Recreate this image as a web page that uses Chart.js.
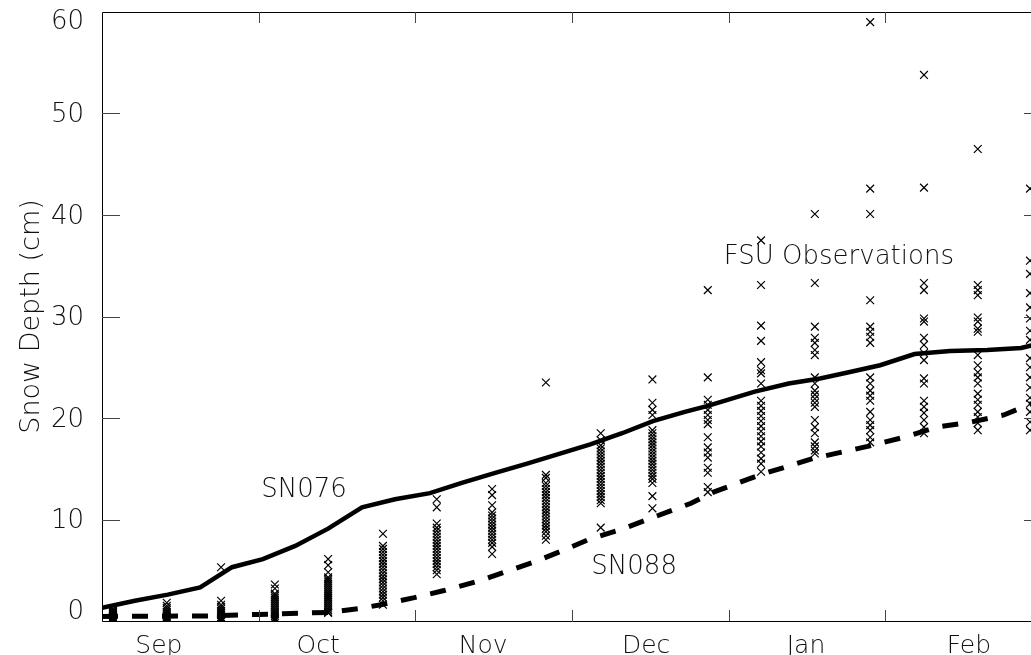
<!DOCTYPE html>
<html><head><meta charset="utf-8">
<script src="https://cdn.jsdelivr.net/npm/chart.js@4.4.1/dist/chart.umd.min.js"></script>
<style>
html,body{margin:0;padding:0;overflow:hidden;background:#fff;width:1031px;height:655px}
#wrap{position:absolute;left:0;top:0;width:1050px;height:655px}
</style>
</head><body><div id="wrap"><canvas id="c" width="1050" height="655"></canvas></div>
<script>
// ---- data (x in days from start of axis) ----
const monthLabels = ['Sep','Oct','Nov','Dec','Jan','Feb'];
const monthLabelDays = [10.9, 41.4, 73.0, 104.2, 134.8, 166.0];
const tickDays = [30, 60, 90, 120, 150];
const yTickValues = [0, 10, 20, 30, 40, 50, 60];

const sn076Days  = [0, 6.3, 12.6, 18.8, 24.9, 30.8, 37.0, 43.3, 49.8, 56.1, 62.8, 68.9, 75.3, 81.4, 87.7, 93.5, 99.6, 105.5, 111.6, 116.0, 125.0, 131.5, 137.5, 143.0, 149.0, 155.6, 162.4, 169.5, 176.0, 180.0];
const sn076Depth = [1.3, 2.0, 2.6, 3.3, 5.3, 6.1, 7.4, 9.1, 11.2, 12.0, 12.6, 13.6, 14.6, 15.5, 16.5, 17.4, 18.5, 19.7, 20.6, 21.2, 22.6, 23.4, 23.9, 24.5, 25.2, 26.3, 26.6, 26.7, 26.9, 27.4];

const sn088Days  = [0, 20.0, 30.0, 43.3, 49.0, 53.4, 59.8, 65.5, 72.6, 77.0, 82.7, 88.5, 93.5, 99.3, 105.0, 110.7, 112.8, 117.1, 126.0, 136.1, 146.6, 153.6, 159.9, 166.4, 172.7, 179.8];
const sn088Depth = [0.45, 0.5, 0.65, 0.85, 1.2, 1.6, 2.3, 3.0, 4.0, 4.8, 5.8, 7.0, 8.1, 9.0, 10.1, 11.2, 11.6, 12.7, 14.4, 16.0, 17.2, 18.1, 19.1, 19.6, 20.3, 21.8];

const obsDays = [2.1, 12.4, 22.8, 33.1, 43.3, 53.8, 64.1, 74.7, 85.0, 95.5, 105.4, 116.0, 126.2, 136.5, 147.1, 157.4, 167.7, 177.7];
const obsDepths = [
  [0, 0, 0, 0, 0, 0.1, 0.2, 0.3, 0.4, 0.5, 0.6, 0.7, 0.8, 0.9, 1.0, 1.1, 1.2],
  [1.8, 1.5, 1.3, 1.1, 0.9, 0.7, 0.5, 0.4, 0.3, 0.2, 0.1, 0, 0, 0],
  [5.3, 2.0, 1.6, 1.4, 1.2, 1.0, 0.8, 0.6, 0.4, 0.3, 0.2, 0.1, 0, 0],
  [3.6, 3.2, 2.7, 2.5, 2.3, 2.1, 1.9, 1.7, 1.5, 1.3, 1.1, 0.9, 0.7, 0.5, 0.3, 0.2, 0.1, 0],
  [6.1, 5.5, 4.8, 4.3, 4.1, 3.9, 3.7, 3.5, 3.3, 3.1, 2.9, 2.7, 2.5, 2.3, 2.1, 1.9, 1.7, 1.5, 1.3, 1.1, 0.9, 0.8],
  [8.6, 7.4, 7.1, 6.8, 6.5, 6.2, 5.9, 5.6, 5.3, 5.0, 4.7, 4.4, 4.1, 3.8, 3.5, 3.2, 2.9, 2.6, 2.3, 2.0, 1.6],
  [12.0, 11.2, 9.6, 9.2, 8.9, 8.6, 8.3, 8.0, 7.7, 7.4, 7.1, 6.8, 6.5, 6.2, 5.9, 5.6, 5.3, 5.0, 4.6],
  [13.0, 12.4, 11.4, 10.7, 10.4, 10.1, 9.8, 9.5, 9.2, 8.9, 8.6, 8.3, 8.0, 7.7, 7.3, 6.6],
  [23.5, 14.4, 14.1, 13.6, 13.3, 13.0, 12.7, 12.4, 12.1, 11.8, 11.5, 11.2, 10.9, 10.6, 10.3, 10.0, 9.7, 9.4, 9.1, 8.8, 8.4, 8.0],
  [18.5, 17.8, 17.3, 17.0, 16.7, 16.4, 16.1, 15.8, 15.5, 15.2, 14.9, 14.6, 14.3, 14.0, 13.7, 13.4, 13.1, 12.8, 12.5, 12.2, 11.9, 11.6, 9.2],
  [23.8, 21.5, 20.8, 20.3, 18.8, 18.5, 18.2, 17.9, 17.6, 17.3, 17.0, 16.7, 16.4, 16.1, 15.8, 15.5, 15.2, 14.9, 14.6, 14.3, 14.0, 13.6, 12.3, 11.1],
  [32.6, 24.0, 21.8, 21.3, 20.8, 20.3, 19.8, 19.4, 18.1, 17.1, 16.6, 16.1, 15.1, 14.6, 13.2, 12.7],
  [37.5, 33.1, 29.1, 27.6, 25.5, 24.7, 24.4, 23.4, 21.7, 21.2, 20.7, 20.2, 19.7, 19.2, 18.7, 18.2, 17.7, 17.2, 16.6, 16.0, 15.5, 14.7],
  [40.1, 33.3, 29.0, 27.9, 27.4, 26.7, 26.2, 24.0, 23.4, 22.7, 22.3, 21.9, 21.5, 21.1, 19.8, 19.1, 18.5, 17.6, 17.2, 16.8, 16.5],
  [59.0, 42.6, 40.1, 31.6, 29.0, 28.5, 28.0, 27.4, 24.0, 23.4, 22.7, 22.2, 21.7, 20.6, 19.8, 19.3, 18.8, 18.1, 17.6],
  [53.8, 42.7, 33.3, 32.6, 29.8, 29.5, 27.9, 27.2, 26.4, 25.7, 23.9, 23.4, 21.7, 21.1, 20.5, 19.8, 19.1, 18.5],
  [46.5, 33.1, 32.6, 32.1, 29.9, 29.5, 28.8, 28.5, 26.2, 25.2, 24.5, 24.0, 23.4, 22.4, 21.8, 21.3, 20.6, 20.1, 19.5, 18.8],
  [42.6, 35.5, 34.2, 32.3, 30.9, 29.8, 28.6, 27.7, 25.9, 25.0, 24.0, 23.0, 22.0, 21.4, 20.6, 19.6, 18.8]
];

const annotations = [
  {text: 'SN076', x: 38.7, y: 12.9},
  {text: 'SN088', x: 101.9, y: 5.3},
  {text: 'FSU Observations', x: 141.1, y: 35.8}
];

// ---- build datasets ----
const obsPoints = [];
obsDays.forEach((d, i) => obsDepths[i].forEach(v => obsPoints.push({x: d, y: v})));
const sn076Points = sn076Days.map((d, i) => ({x: d, y: sn076Depth[i]}));
const sn088Points = sn088Days.map((d, i) => ({x: d, y: sn088Depth[i]}));

const FONT = "'DejaVu Sans ExtraLight', 'DejaVu Sans Light', Lato, sans-serif";
const W = 300;
const INK = '#111';

const framePlugin = {
  id: 'frame',
  afterDatasetsDraw(chart) {
    const {ctx, chartArea: a, scales: {x, y}} = chart;
    ctx.save();
    ctx.strokeStyle = '#000';
    ctx.lineWidth = 1;
    ctx.beginPath();
    ctx.rect(Math.round(a.left) + 0.5, Math.round(a.top) + 0.5, Math.round(a.right - a.left), Math.round(a.bottom - a.top));
    ctx.stroke();
    ctx.strokeStyle = '#444';
    ctx.beginPath();
    tickDays.forEach(d => {
      const px = Math.round(x.getPixelForValue(d)) + 0.5;
      ctx.moveTo(px, a.bottom); ctx.lineTo(px, a.bottom - 11);
      ctx.moveTo(px, a.top); ctx.lineTo(px, a.top + 11);
    });
    yTickValues.forEach(v => {
      if (v === 0 || v === 60) return;
      const py = Math.round(y.getPixelForValue(v)) + 0.5;
      ctx.moveTo(a.left, py); ctx.lineTo(a.left + 18, py);
      ctx.moveTo(a.right, py); ctx.lineTo(a.right - 18, py);
    });
    ctx.stroke();
    // annotations
    ctx.fillStyle = INK;
    ctx.font = W + " 26px " + FONT;
    ctx.textAlign = 'center';
    ctx.textBaseline = 'middle';
    annotations.forEach(t => ctx.fillText(t.text, x.getPixelForValue(t.x), y.getPixelForValue(t.y)));
    ctx.restore();
  }
};

new Chart(document.getElementById('c'), {
  type: 'scatter',
  data: {
    datasets: [
      {label: 'FSU Observations', data: obsPoints, pointStyle: 'crossRot', pointRadius: 5.5, pointBorderWidth: 1.2,
       borderColor: '#000', backgroundColor: '#000', showLine: false},
      {label: 'SN076', type: 'line', data: sn076Points, borderColor: '#000', borderWidth: 4.5, pointRadius: 0, tension: 0, fill: false},
      {label: 'SN088', type: 'line', data: sn088Points, borderColor: '#000', borderWidth: 5, borderDash: [16, 14], pointRadius: 0, tension: 0, fill: false}
    ]
  },
  options: {
    responsive: false, animation: false, devicePixelRatio: 1,
    layout: {padding: {left: 0, right: 8, top: 12, bottom: 0}},
    plugins: {legend: {display: false}, tooltip: {enabled: false}},
    scales: {
      x: {
        type: 'linear', position: 'bottom', min: 0, max: 180,
        grid: {display: false}, border: {display: false},
        afterBuildTicks: s => { s.ticks = monthLabelDays.map(v => ({value: v})); },
        ticks: {callback: (v, i) => monthLabels[i], color: INK, padding: 2, maxRotation: 0, autoSkip: false,
                font: {family: FONT, size: 25, weight: W}},
        afterFit: s => { s.height = 34; s.paddingLeft = 0; s.paddingRight = 0; }
      },
      y: {
        min: 0, max: 60,
        grid: {display: false}, border: {display: false},
        // IDL-style: edge labels pulled inside the frame, others sit slightly below their tick
        afterBuildTicks: s => { s.ticks = yTickValues.map(v => ({value: v === 60 ? 59.0 : (v === 0 ? 0.85 : v - 0.2)})); },
        ticks: {callback: (v, i) => String(yTickValues[i]), color: INK, padding: 10, font: {family: FONT, size: 26, weight: W}},
        title: {display: true, text: 'Snow Depth (cm)', color: INK, padding: {top: 16, bottom: 0},
                font: {family: FONT, size: 27, weight: W}},
        afterFit: s => { s.width = 102; s.paddingTop = 0; s.paddingBottom = 0; }
      }
    }
  },
  plugins: [framePlugin]
});
</script>
</body></html>
